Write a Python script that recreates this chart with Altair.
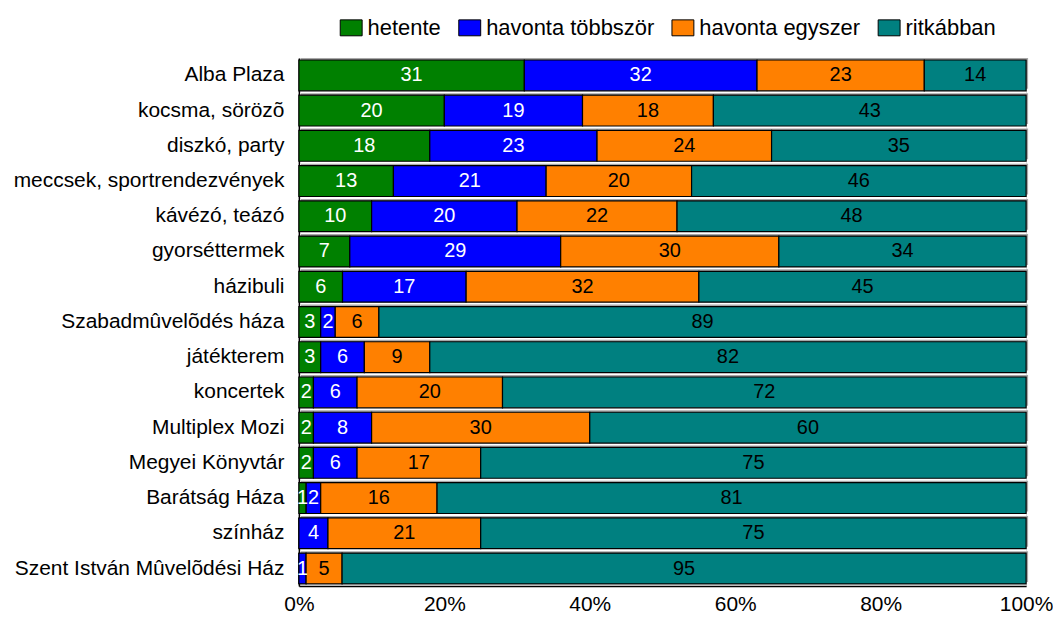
import altair as alt
import pandas as pd

places = ["Alba Plaza", "kocsma, sörözõ", "diszkó, party", "meccsek, sportrendezvények",
          "kávézó, teázó", "gyorséttermek", "házibuli", "Szabadmûvelõdés háza",
          "játékterem", "koncertek", "Multiplex Mozi", "Megyei Könyvtár",
          "Barátság Háza", "színház", "Szent István Mûvelõdési Ház"]
series = ["hetente", "havonta többször", "havonta egyszer", "ritkábban"]
colors = ["#008000", "#0000FF", "#FF8000", "#008080"]
text_colors = ["white", "white", "black", "black"]

hetente = [31, 20, 18, 13, 10, 7, 6, 3, 3, 2, 2, 2, 1, 0, 0]
havonta_tobbszor = [32, 19, 23, 21, 20, 29, 17, 2, 6, 6, 8, 6, 2, 4, 1]
havonta_egyszer = [23, 18, 24, 20, 22, 30, 32, 6, 9, 20, 30, 17, 16, 21, 5]
ritkabban = [14, 43, 35, 46, 48, 34, 45, 89, 82, 72, 60, 75, 81, 75, 95]

rows = []
for vals, s, tc, order in zip([hetente, havonta_tobbszor, havonta_egyszer, ritkabban],
                               series, text_colors, range(4)):
    for p, v in zip(places, vals):
        rows.append({"place": p, "series": s, "value": v, "order": order, "tc": tc})
df = pd.DataFrame(rows)
shadow_df = pd.DataFrame({"place": places, "a": [0] * len(places), "b": [1] * len(places)})

FONT = "Liberation Sans, Arial, sans-serif"
FS = 21

yscale = alt.Scale(domain=places, paddingInner=0.125, paddingOuter=0.057)

base = alt.Chart(df).transform_stack(
    stack="value", groupby=["place"], as_=["x0", "x1"], offset="normalize",
    sort=[alt.SortField("order", order="ascending")]
).transform_calculate(mid="(datum.x0 + datum.x1) / 2")

shadow = alt.Chart(shadow_df).mark_bar(color="#a8a8a8", xOffset=2, yOffset=-2,
                                       x2Offset=2, y2Offset=-2).encode(
    x=alt.X("a:Q", scale=alt.Scale(domain=[0, 1])),
    x2="b:Q",
    y=alt.Y("place:N", sort=places, scale=yscale, title=None),
)

bars = base.mark_bar(stroke="black", strokeWidth=1.2).encode(
    x=alt.X("x0:Q", scale=alt.Scale(domain=[0, 1]), title=None,
            axis=alt.Axis(format="%", values=[0, 0.2, 0.4, 0.6, 0.8, 1.0], grid=False,
                          ticks=False, labelFont=FONT, labelFontSize=FS,
                          labelColor="black", labelPadding=8, domainColor="black",
                          domainWidth=1.5, labelFlush=False, labelOverlap=False)),
    x2="x1:Q",
    y=alt.Y("place:N", sort=places, title=None, scale=yscale,
            axis=alt.Axis(labelFont=FONT, labelFontSize=FS, labelColor="black",
                          ticks=False, labelPadding=15, domainColor="black",
                          domainWidth=1.5, labelLimit=400, minExtent=283,
                          maxExtent=283)),
    color=alt.Color("series:N", sort=series,
                    scale=alt.Scale(domain=series, range=colors),
                    legend=alt.Legend(title=None, orient="none", direction="horizontal",
                                      legendX=41, legendY=-42,
                                      symbolType="M-1,-0.727H1V0.727H-1Z",
                                      symbolSize=484, symbolStrokeColor="black",
                                      symbolStrokeWidth=1, symbolOpacity=1,
                                      labelFont=FONT, labelFontSize=22,
                                      labelColor="black", columnPadding=15,
                                      labelOffset=5, labelLimit=300)),
)

labels = base.transform_filter("datum.value > 0").mark_text(
    font=FONT, fontSize=20, baseline="middle", align="center"
).encode(
    x=alt.X("mid:Q"),
    y=alt.Y("place:N", sort=places, scale=yscale),
    text=alt.Text("value:Q"),
    color=alt.Color("tc:N", scale=None),
)

chart = alt.layer(shadow, bars, labels).properties(
    width=730, height=530,
    padding={"left": 5, "top": 7, "right": 0, "bottom": 0}
).configure_view(stroke=None).configure(background="white")

chart.save("out.html", embed_options={"renderer": "svg", "actions": False})
